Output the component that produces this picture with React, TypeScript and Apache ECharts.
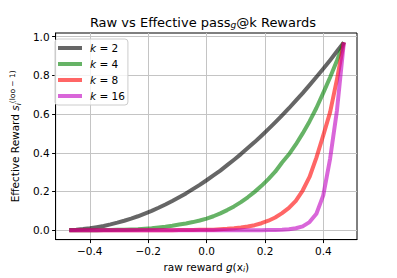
import React, { useEffect, useRef } from 'react';
import * as echarts from 'echarts';

const xs = [-0.47, -0.4465, -0.423, -0.3995, -0.376, -0.3525, -0.329, -0.3055, -0.282, -0.2585, -0.235, -0.2115, -0.188, -0.1645, -0.141, -0.1175, -0.094, -0.0705, -0.047, -0.0235, 0, 0.0235, 0.047, 0.0705, 0.094, 0.1175, 0.141, 0.1645, 0.188, 0.2115, 0.235, 0.2585, 0.282, 0.3055, 0.329, 0.3525, 0.376, 0.3995, 0.423, 0.4465, 0.47];

const k2 = [0.001, 0.003, 0.006, 0.010, 0.016, 0.022, 0.030, 0.039, 0.049, 0.060, 0.072, 0.086, 0.100, 0.116, 0.133, 0.151, 0.170, 0.190, 0.212, 0.234, 0.258, 0.283, 0.308, 0.336, 0.364, 0.393, 0.424, 0.455, 0.488, 0.522, 0.557, 0.593, 0.630, 0.669, 0.708, 0.749, 0.791, 0.834, 0.878, 0.924, 0.970];
const k4 = [0, 0, 0, 0, 0, 0.001, 0.001, 0.002, 0.002, 0.004, 0.005, 0.008, 0.010, 0.014, 0.018, 0.023, 0.029, 0.035, 0.042, 0.050, 0.060, 0.072, 0.087, 0.104, 0.123, 0.145, 0.170, 0.198, 0.229, 0.264, 0.302, 0.350, 0.392, 0.443, 0.500, 0.562, 0.631, 0.709, 0.790, 0.877, 0.970];
const k8 = [0, 0, 0, 0, 0, 0, 0, 0, 0, 0, 0, 0, 0, 0, 0, 0, 0.001, 0.001, 0.001, 0.002, 0.002, 0.003, 0.005, 0.007, 0.010, 0.014, 0.019, 0.026, 0.036, 0.049, 0.066, 0.088, 0.115, 0.152, 0.205, 0.275, 0.375, 0.490, 0.610, 0.780, 0.970];
const k16 = [0, 0, 0, 0, 0, 0, 0, 0, 0, 0, 0, 0, 0, 0, 0, 0, 0, 0, 0, 0, 0, 0, 0, 0, 0, 0, 0, 0, 0, 0.001, 0.001, 0.002, 0.005, 0.010, 0.020, 0.042, 0.085, 0.180, 0.370, 0.620, 0.970];

const seriesNames = ['k = 2', 'k = 4', 'k = 8', 'k = 16'];
const seriesValues = [k2, k4, k8, k16];
const seriesColors = ['rgba(0,0,0,0.6)', 'rgba(0,128,0,0.6)', 'rgba(255,0,0,0.6)', 'rgba(191,0,191,0.6)'];

const xTicks = [-0.4, -0.2, 0, 0.2, 0.4];
const yTicks = [0, 0.2, 0.4, 0.6, 0.8, 1.0];

const FONT = 'DejaVu Sans';

const fmt = (v: number) => (v < 0 ? '\u2212' : '') + Math.abs(v).toFixed(1);

export default function App() {
  const ref = useRef<HTMLDivElement>(null);
  useEffect(() => {
    document.body.style.margin = '0';
    const chart = echarts.init(ref.current!, null, { renderer: 'svg' });
    chart.setOption({
      animation: false,
      backgroundColor: '#ffffff',
      title: {
        text: 'Raw vs Effective pass{sub|g}@k Rewards',
        left: 203,
        top: 15,
        textAlign: 'center',
        padding: 0,
        textStyle: {
          fontFamily: FONT,
          fontSize: 13,
          fontWeight: 'normal',
          color: '#000',
          rich: {
            sub: { fontFamily: FONT, fontSize: 9, fontStyle: 'italic', color: '#000', verticalAlign: 'bottom', padding: [5, 0, 0, 0] },
          },
        },
      },
      legend: {
        orient: 'vertical',
        left: 55,
        top: 39,
        padding: [3, 3, 3, 3],
        itemGap: 4,
        itemWidth: 24,
        itemHeight: 4,
        icon: 'rect',
        backgroundColor: 'rgba(255,255,255,0.8)',
        borderColor: '#cccccc',
        borderWidth: 1,
        borderRadius: 3,
        data: seriesNames,
        formatter: (name: string) => '{it|k}{n| = ' + name.split('= ')[1] + '}',
        textStyle: {
          fontFamily: FONT,
          fontSize: 10.5,
          color: '#000',
          lineHeight: 12,
          rich: {
            it: { fontFamily: FONT, fontSize: 10.5, fontStyle: 'italic', color: '#000', lineHeight: 12, padding: [0, 0, 0, 3] },
            n: { fontFamily: FONT, fontSize: 10.5, color: '#000', lineHeight: 12 },
          },
        },
      },
      grid: { left: 49, right: 40, top: 33, bottom: 35, show: true, borderColor: '#000', borderWidth: 1, backgroundColor: 'transparent' },
      xAxis: {
        type: 'value',
        min: -0.517,
        max: 0.515,
        splitNumber: 5,
        name: 'raw reward {it|g}(x{sub|i})',
        nameLocation: 'middle',
        nameGap: 18,
        nameTextStyle: {
          fontFamily: FONT,
          fontSize: 10.5,
          color: '#000',
          rich: {
            it: { fontFamily: FONT, fontSize: 10.5, fontStyle: 'italic', color: '#000' },
            sub: { fontFamily: FONT, fontSize: 7.5, fontStyle: 'italic', color: '#000', verticalAlign: 'bottom', padding: [4, 0, 0, 0] },
          },
        },
        axisLine: { show: true, onZero: false, lineStyle: { color: '#000', width: 1 } },
        axisTick: { show: true, customValues: xTicks, length: 3.5, lineStyle: { color: '#000', width: 1 } },
        axisLabel: { customValues: xTicks, formatter: fmt, fontFamily: FONT, fontSize: 10.5, color: '#000', margin: 6 },
        splitLine: { show: true, lineStyle: { color: '#c4c4c4', width: 1 } },
      },
      yAxis: {
        type: 'value',
        min: -0.0485,
        max: 1.0185,
        splitNumber: 5,
        name: 'Effective Reward {it|s}{sub|i}{sup|(loo \u2212 1)}',
        nameLocation: 'middle',
        nameRotate: 90,
        nameGap: 28,
        nameTextStyle: {
          fontFamily: FONT,
          fontSize: 10.5,
          color: '#000',
          rich: {
            it: { fontFamily: FONT, fontSize: 10.5, fontStyle: 'italic', color: '#000' },
            sub: { fontFamily: FONT, fontSize: 7.5, fontStyle: 'italic', color: '#000', verticalAlign: 'bottom', padding: [4, 0, 0, 0] },
            sup: { fontFamily: FONT, fontSize: 7.5, color: '#000', verticalAlign: 'top', padding: [0, 0, 6, 0] },
          },
        },
        axisLine: { show: true, onZero: false, lineStyle: { color: '#000', width: 1 } },
        axisTick: { show: true, customValues: yTicks, length: 3.5, lineStyle: { color: '#000', width: 1 } },
        axisLabel: { customValues: yTicks, formatter: fmt, fontFamily: FONT, fontSize: 10.5, color: '#000', margin: 6 },
        splitLine: { show: true, lineStyle: { color: '#c4c4c4', width: 1 } },
      },
      series: seriesNames.map((name, si) => ({
        name,
        type: 'line',
        data: xs.map((x, i) => [x, seriesValues[si][i]]),
        showSymbol: false,
        symbol: 'none',
        color: seriesColors[si],
        lineStyle: { color: seriesColors[si], width: 4, cap: 'butt', join: 'round' },
        itemStyle: { color: seriesColors[si] },
        z: 2 + si,
      })),
    });
    return () => chart.dispose();
  }, []);
  return <div ref={ref} style={{ width: 397, height: 278 }} />;
}
